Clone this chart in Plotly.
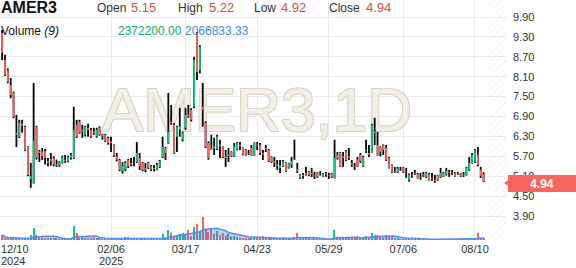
import plotly.graph_objects as go
import pandas as pd

# ---------------- data ----------------
symbol = "AMER3"
period = "1D"

opens = [9.42, 8.60, 8.30, 7.85, 7.61, 6.40, 6.29, 6.68, 6.59, 5.98,
         5.02, 4.90, 6.59, 5.80, 5.85, 5.85, 5.55, 5.55, 5.65, 5.45,
         5.42, 5.50, 5.60, 5.55, 5.65, 5.65, 6.65, 6.74, 6.50, 6.35,
         6.55, 6.50, 6.45, 6.30, 6.56, 6.30, 6.35, 6.25, 6.15, 6.04,
         5.70, 5.59, 5.25, 5.30, 5.59, 5.45, 5.46, 5.53, 5.65, 5.50,
         5.35, 5.50, 5.30, 5.35, 5.30, 5.38, 5.68, 5.95, 6.10, 6.74,
         6.65, 6.29, 6.50, 6.20, 6.56, 6.95, 7.10, 7.20, 9.42, 8.30,
         7.20, 6.71, 6.10, 5.95, 6.00, 5.92, 6.05, 5.98, 5.70, 5.70,
         5.83, 5.70, 5.90, 6.05, 5.95, 5.89, 5.80, 5.95, 5.74, 6.05,
         6.05, 5.80, 5.95, 5.89, 5.68, 5.55, 5.45, 5.35, 5.40, 5.50,
         5.35, 5.45, 5.62, 5.30, 5.05, 5.14, 5.15, 5.23, 5.20, 5.12,
         5.20, 5.18, 5.10, 5.18, 5.12, 5.18, 5.05, 5.74, 5.80, 5.65,
         5.85, 5.70, 5.50, 5.40, 5.60, 5.75, 5.40, 5.85, 5.80, 5.80,
         6.40, 6.04, 5.98, 6.04, 5.95, 5.65, 5.44, 5.25, 5.23, 5.30,
         5.36, 5.20, 4.98, 5.15, 5.20, 5.16, 5.10, 5.15, 5.08, 5.16,
         5.05, 4.98, 5.12, 5.08, 5.20, 5.15, 5.22, 5.22, 5.20, 5.18,
         5.18, 5.15, 5.14, 5.29, 5.50, 5.53, 5.74, 5.30, 5.15]
highs = [9.51, 8.76, 8.35, 8.06, 7.65, 6.95, 6.80, 6.80, 6.62, 6.00,
         5.50, 7.91, 6.62, 5.89, 5.95, 5.92, 5.65, 5.80, 5.70, 5.60,
         5.55, 5.72, 5.74, 5.72, 5.80, 7.19, 6.80, 6.80, 6.65, 6.62,
         6.68, 6.55, 6.56, 6.56, 6.60, 6.38, 6.38, 6.29, 6.29, 6.06,
         5.80, 5.62, 5.53, 5.55, 5.62, 5.65, 5.68, 6.13, 5.80, 5.53,
         5.50, 5.53, 5.44, 5.44, 5.50, 5.59, 6.29, 5.98, 7.61, 7.25,
         6.70, 6.62, 7.16, 6.45, 7.16, 7.25, 7.15, 8.70, 9.45, 9.05,
         7.91, 6.75, 6.15, 6.35, 6.26, 6.35, 6.20, 6.00, 5.89, 5.95,
         5.85, 6.10, 6.13, 6.13, 5.97, 5.92, 5.89, 6.04, 6.12, 6.13,
         6.10, 5.89, 6.04, 5.92, 5.70, 5.68, 5.59, 5.59, 5.59, 5.52,
         5.50, 5.68, 6.20, 5.50, 5.16, 5.20, 5.38, 5.25, 5.35, 5.23,
         5.22, 5.25, 5.20, 5.23, 5.20, 5.20, 6.20, 5.83, 5.83, 5.83,
         5.89, 5.95, 5.59, 5.50, 5.68, 5.80, 5.72, 6.20, 6.04, 6.68,
         6.86, 6.44, 6.00, 6.06, 6.04, 5.68, 5.46, 5.38, 5.38, 5.38,
         5.38, 5.35, 5.18, 5.23, 5.29, 5.20, 5.20, 5.23, 5.23, 5.20,
         5.20, 5.14, 5.14, 5.35, 5.23, 5.35, 5.29, 5.29, 5.23, 5.23,
         5.20, 5.23, 5.38, 5.68, 5.80, 5.92, 5.98, 5.38, 5.22]
lows = [8.60, 8.12, 7.90, 7.45, 6.85, 5.98, 6.25, 6.41, 5.86, 5.10,
        4.75, 4.88, 5.60, 5.53, 5.59, 5.45, 5.40, 5.42, 5.40, 5.38,
        5.38, 5.48, 5.50, 5.52, 5.60, 5.62, 6.25, 6.38, 6.26, 6.30,
        6.29, 6.26, 6.35, 6.26, 6.32, 6.20, 6.13, 6.05, 5.83, 5.68,
        5.55, 5.25, 5.18, 5.25, 5.35, 5.40, 5.40, 5.50, 5.29, 5.25,
        5.22, 5.32, 5.25, 5.25, 5.28, 5.35, 5.65, 5.59, 6.08, 6.65,
        5.78, 5.83, 6.29, 6.15, 6.50, 6.86, 6.75, 7.15, 8.00, 8.20,
        6.59, 5.95, 5.60, 5.89, 5.74, 5.89, 5.65, 5.65, 5.38, 5.53,
        5.68, 5.68, 5.88, 5.89, 5.73, 5.72, 5.74, 5.72, 5.72, 5.89,
        5.74, 5.59, 5.83, 5.53, 5.50, 5.38, 5.29, 5.20, 5.38, 5.23,
        5.33, 5.35, 5.59, 5.20, 5.02, 5.02, 5.12, 5.10, 5.08, 5.02,
        5.05, 5.12, 5.08, 5.08, 5.02, 5.05, 5.03, 5.60, 5.38, 5.38,
        5.56, 5.59, 5.38, 5.29, 5.38, 5.50, 5.38, 5.80, 5.68, 5.80,
        6.04, 5.72, 5.70, 5.74, 5.56, 5.33, 5.20, 5.20, 5.20, 5.26,
        5.20, 5.05, 4.93, 5.05, 5.14, 5.03, 4.99, 5.08, 5.05, 4.97,
        4.96, 4.90, 4.96, 5.05, 5.08, 5.12, 5.08, 5.14, 5.08, 5.14,
        5.08, 5.08, 5.12, 5.26, 5.48, 5.50, 5.40, 5.05, 4.92]
closes = [8.82, 8.15, 7.94, 7.55, 6.89, 6.35, 6.71, 6.62, 5.89, 5.14,
          5.10, 6.17, 5.65, 5.85, 5.70, 5.65, 5.50, 5.62, 5.45, 5.42,
          5.52, 5.68, 5.55, 5.68, 5.75, 6.50, 6.29, 6.41, 6.45, 6.59,
          6.50, 6.30, 6.40, 6.50, 6.35, 6.36, 6.15, 6.10, 6.10, 5.72,
          5.60, 5.29, 5.42, 5.50, 5.40, 5.50, 5.45, 5.80, 5.40, 5.29,
          5.30, 5.35, 5.40, 5.32, 5.45, 5.55, 5.98, 5.80, 6.44, 6.70,
          5.80, 6.59, 6.60, 6.41, 6.95, 6.90, 6.80, 8.60, 8.24, 9.00,
          7.10, 5.98, 5.65, 5.90, 5.95, 6.30, 6.00, 5.68, 5.65, 5.75,
          5.70, 6.00, 6.10, 6.00, 5.75, 5.74, 5.78, 5.74, 6.10, 6.02,
          5.80, 5.75, 5.92, 5.55, 5.53, 5.50, 5.40, 5.42, 5.55, 5.25,
          5.48, 5.55, 5.60, 5.25, 5.14, 5.10, 5.20, 5.14, 5.15, 5.10,
          5.08, 5.16, 5.18, 5.15, 5.10, 5.08, 5.65, 5.65, 5.40, 5.70,
          5.59, 5.65, 5.45, 5.38, 5.40, 5.55, 5.68, 5.90, 5.75, 6.65,
          6.45, 5.74, 5.83, 5.89, 5.59, 5.35, 5.23, 5.22, 5.33, 5.28,
          5.23, 5.18, 5.14, 5.12, 5.18, 5.05, 5.08, 5.12, 5.20, 4.99,
          5.02, 4.95, 4.99, 5.20, 5.10, 5.25, 5.20, 5.20, 5.10, 5.16,
          5.10, 5.12, 5.35, 5.50, 5.74, 5.89, 5.44, 5.10, 4.94]
volume_millions = [5.0, 1.5, 1.2, 1.4, 1.0, 1.3, 1.1, 0.9, 1.5, 2.0,
                   5.0, 12.0, 5.0, 2.5, 2.0, 1.8, 2.2, 1.5, 1.6, 1.2,
                   1.0, 1.3, 0.9, 1.1, 1.4, 14.0, 7.0, 2.5, 3.0, 2.0,
                   2.2, 1.8, 2.5, 1.5, 1.2, 1.0, 1.1, 0.9, 1.2, 1.0,
                   0.8, 1.1, 1.0, 3.0, 3.0, 1.5, 1.2, 2.0, 1.5, 1.2,
                   1.0, 1.3, 1.1, 0.9, 1.0, 1.2, 6.0, 2.5, 10.0, 7.5,
                   4.0, 5.0, 6.0, 7.0, 5.0, 10.0, 4.0, 13.0, 16.0, 9.0,
                   23.0, 10.0, 8.0, 12.0, 6.0, 9.0, 5.0, 7.0, 4.0, 6.0,
                   3.5, 4.0, 3.0, 2.5, 2.0, 2.0, 1.8, 2.5, 1.5, 1.6,
                   2.0, 4.0, 1.5, 2.0, 1.2, 1.4, 1.6, 1.2, 2.2, 1.4,
                   1.5, 1.8, 3.0, 7.0, 2.5, 2.0, 1.5, 1.2, 1.0, 1.1,
                   0.9, 1.0, 1.2, 1.0, 0.8, 1.0, 10.0, 3.0, 2.5, 2.8,
                   2.0, 1.8, 1.5, 1.2, 2.0, 2.5, 3.0, 4.0, 2.0, 7.0,
                   5.0, 5.0, 3.0, 2.5, 5.0, 3.0, 2.5, 1.5, 1.2, 1.0,
                   1.0, 0.8, 1.0, 0.7, 0.8, 0.6, 0.7, 0.6, 0.8, 0.7,
                   0.6, 0.8, 0.6, 1.0, 0.7, 0.6, 0.5, 0.6, 0.7, 0.8,
                   1.0, 0.9, 1.5, 2.0, 1.5, 1.3, 7.0, 1.0293, 2.3722]
ma_period = 9

price_ticks = [3.90, 4.50, 5.10, 5.70, 6.30, 6.90, 7.50, 8.10, 8.70, 9.30, 9.90]
date_tick_index = [38, 64, 89, 114, 140, 165]
date_tick_text = ["02/06", "03/17", "04/23", "05/29", "07/06", "08/10"]
first_date_text = "12/10"
year_labels = ["2024", "2025"]

# ---------------- derived ----------------
n = len(closes)
idx = list(range(n))
volumes = [v * 1e6 for v in volume_millions]
vol_ma = pd.Series(volumes).rolling(ma_period, min_periods=1).mean().tolist()
last = n - 1

GREEN = "#15c47e"
RED = "#f4655f"
HDR_RED = "#d2504a"
HDR_GREEN = "#13a86b"
HDR_BLUE = "#4a86e8"
GRID = "#ececec"
TXT = "#333333"
FONT = "Arial, Liberation Sans, sans-serif"

# layout geometry (pixels)
PW, PH = 506, 240          # plot area size
PX_PER_BAR, X0 = 2.866, 2.1
x_range = [(0 - X0) / PX_PER_BAR, (PW - X0) / PX_PER_BAR]
y_top_px, y_bot_px = 17.0, 216.0   # pixel rows of 9.90 and 3.90
ppu = (y_bot_px - y_top_px) / (price_ticks[-1] - price_ticks[0])
y_range = [price_ticks[0] - (PH - y_bot_px) / ppu, price_ticks[-1] + y_top_px / ppu]


def ax(px):
    return px / PW


def ay(py):
    return 1 - py / PH


wx, wy = [], []
ux, uy = [], []
dx, dy = [], []
for i in idx:
    wx += [i, i, None]
    wy += [lows[i], highs[i], None]
    if closes[i] >= opens[i]:
        ux += [i, i, None]
        uy += [opens[i], closes[i], None]
    else:
        dx += [i, i, None]
        dy += [opens[i], closes[i], None]

vol_colors = [GREEN if closes[i] >= opens[i] else RED for i in idx]

fig = go.Figure()

# watermark (bottom layer)
fig.add_trace(go.Scatter(
    x=[88.9], y=[6.92], mode="text", text=[f"{symbol},{period}"],
    textfont=dict(family=FONT, size=62, color="#f2efe8",
                  shadow="-1px -1px 0 #ddd6c4, 1px -1px 0 #ddd6c4, -1px 1px 0 #ddd6c4, 1px 1px 0 #ddd6c4"),
    hoverinfo="skip", showlegend=False))

# candles: wicks then bodies
fig.add_trace(go.Scatter(x=wx, y=wy, mode="lines", line=dict(color="#000000", width=1.8),
                         hoverinfo="skip", showlegend=False))
fig.add_trace(go.Scatter(x=ux, y=uy, mode="lines", line=dict(color=GREEN, width=1.8),
                         hoverinfo="skip", showlegend=False))
fig.add_trace(go.Scatter(x=dx, y=dy, mode="lines", line=dict(color=RED, width=1.8),
                         hoverinfo="skip", showlegend=False))

# volume
fig.add_trace(go.Bar(x=idx, y=volumes, marker=dict(color=vol_colors, line=dict(width=0)),
                     width=0.4, yaxis="y2", hoverinfo="skip", showlegend=False))
fig.add_trace(go.Scatter(x=idx, y=vol_ma, mode="lines", yaxis="y2",
                         line=dict(color="#5b8def", width=1.5),
                         fill="tozeroy", fillcolor="rgba(70,130,230,0.38)",
                         hoverinfo="skip", showlegend=False))

# hatched future area
fig.add_trace(go.Bar(x=[x_range[1] - 2.8], y=[1], width=[5.8], yaxis="y3",
                     marker=dict(color="rgba(0,0,0,0)", line=dict(width=0),
                                 pattern=dict(shape="/", fgcolor="#d9d9d9",
                                              bgcolor="rgba(0,0,0,0)", size=5, solidity=0.15)),
                     hoverinfo="skip", showlegend=False))

annotations = []


def txt(px, py, s, color=TXT, size=12, xanchor="left", bold=False):
    annotations.append(dict(
        x=ax(px), y=ay(py), xref="paper", yref="paper", text=s, showarrow=False,
        xanchor=xanchor, yanchor="middle", borderpad=0,
        font=dict(family=FONT, size=size, color=color, weight="bold" if bold else "normal")))


txt(0, 7.5, symbol, color="#111111", size=16, bold=True)
txt(96, 8, "Open")
txt(130, 7, f"{opens[last]:.2f}", color=HDR_RED, size=13)
txt(177, 8, "High")
txt(208, 7, f"{highs[last]:.2f}", color=HDR_RED, size=13)
txt(253, 8, "Low")
txt(280, 7, f"{lows[last]:.2f}", color=HDR_RED, size=13)
txt(328, 8, "Close")
txt(365, 7, f"{closes[last]:.2f}", color=HDR_RED, size=13)
txt(0, 31.5, "Volume <i>(9)</i>", color="#111111")
txt(117, 31.5, f"{volumes[last]:.2f}", color=HDR_GREEN)
txt(184, 31.5, f"{vol_ma[last]:.2f}", color=HDR_BLUE)

# first date + years
txt(0, 248.5, first_date_text, color=TXT, size=11)
txt(0, 260.5, year_labels[0], color=TXT, size=11)
txt(X0 + date_tick_index[0] * PX_PER_BAR, 260.5, year_labels[1], color=TXT, size=11, xanchor="center")

# last price label
annotations.append(dict(
    x=ax(508), y=closes[last], xref="paper", yref="y", text=f"<b>{closes[last]:.2f}</b>",
    showarrow=False, xanchor="left", yanchor="middle", yshift=-1.5,
    width=68, height=17, bgcolor="#f7665e", borderpad=0, borderwidth=0,
    font=dict(family=FONT, size=12, color="white")))

shapes = [dict(type="path", xref="paper", yref="y",
               path=f"M {ax(504)} {closes[last] - 0.045} L {ax(509)} {closes[last] + 0.06} "
                    f"L {ax(509)} {closes[last] - 0.15} Z",
               fillcolor="#f7665e", line=dict(width=0))]

fig.update_layout(
    width=576, height=268,
    margin=dict(l=0, r=576 - PW, t=0, b=268 - PH),
    paper_bgcolor="white", plot_bgcolor="white",
    showlegend=False, hovermode=False, barmode="overlay",
    font=dict(family=FONT, color=TXT),
    xaxis=dict(range=x_range, tickmode="array", tickvals=date_tick_index, ticktext=date_tick_text,
               showgrid=True, gridcolor=GRID, gridwidth=1, zeroline=False, showline=False,
               ticks="", tickfont=dict(size=11, color=TXT), automargin=False,
               ticklabelstandoff=1, fixedrange=True),
    yaxis=dict(range=y_range, side="right", tickmode="array", tickvals=price_ticks,
               ticktext=[f"{t:.2f}" for t in price_ticks],
               showgrid=True, gridcolor=GRID, gridwidth=1, zeroline=False, showline=False,
               ticks="", tickfont=dict(size=11, color=TXT), automargin=False,
               ticklabelstandoff=6, fixedrange=True),
    yaxis2=dict(overlaying="y", range=[0, 240e6], visible=False, fixedrange=True),
    yaxis3=dict(overlaying="y", range=[0, 1], visible=False, fixedrange=True),
    annotations=annotations,
    shapes=shapes,
)

fig.write_html("out.html")
